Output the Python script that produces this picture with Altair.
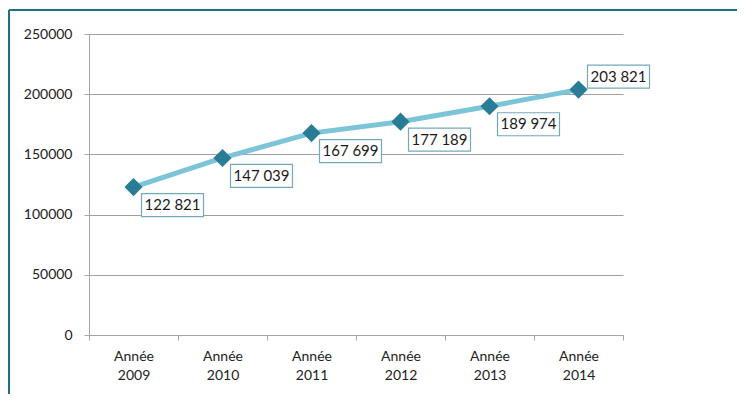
import altair as alt
import pandas as pd

years = ["Année 2009", "Année 2010", "Année 2011", "Année 2012", "Année 2013", "Année 2014"]
values = [122821, 147039, 167699, 177189, 189974, 203821]
labels = ["122 821", "147 039", "167 699", "177 189", "189 974", "203 821"]
y_ticks = [0, 50000, 100000, 150000, 200000, 250000]

df = pd.DataFrame({"year": years, "value": values, "label": labels})
df["above"] = [i == len(years) - 1 for i in range(len(years))]

FONT = "Lato"
BOX = "M-1,-0.371L1,-0.371L1,0.371L-1,0.371Z"

x_enc = alt.X("year:N", sort=years, bandPosition=0.5,
              scale=alt.Scale(type="band", paddingInner=0, paddingOuter=0),
              axis=alt.Axis(title=None, labelAngle=0, tickBand="extent",
                            labelExpr="split(datum.label, ' ')",
                            labelLineHeight=19, labelPadding=9, tickSize=5,
                            domainColor="#a6a6a6", tickColor="#a6a6a6",
                            labelFontSize=14, labelColor="#222222", labelFont=FONT,
                            grid=False))
y_enc = alt.Y("value:Q", scale=alt.Scale(domain=[0, 250000], nice=False),
              axis=alt.Axis(title=None, values=y_ticks, format="d", tickSize=5,
                            labelPadding=12, domainColor="#a6a6a6", tickColor="#a6a6a6",
                            gridColor="#a0a0a0", labelFontSize=14, labelColor="#222222",
                            labelFont=FONT))

base = alt.Chart(df)

line = base.mark_line(color="#7cc4d8", strokeWidth=5).encode(x=x_enc, y=y_enc)
pts = base.mark_point(shape="diamond", filled=True, size=330, color="#2a7b95",
                      opacity=1).encode(x=x_enc, y=y_enc)

below = base.transform_filter("!datum.above")
above = base.transform_filter("datum.above")

box_style = dict(shape=BOX, size=3844, filled=True, fill="white", stroke="#74a9bb",
                 strokeWidth=1.2, opacity=1)
txt_style = dict(font=FONT, fontSize=15, color="#1a1a1a", align="center", baseline="middle")

box_b = below.mark_point(xOffset=39, yOffset=18, **box_style).encode(x=x_enc, y=y_enc)
txt_b = below.mark_text(dx=39, dy=18, **txt_style).encode(x=x_enc, y=y_enc, text="label:N")
box_a = above.mark_point(xOffset=40, yOffset=-13, **box_style).encode(x=x_enc, y=y_enc)
txt_a = above.mark_text(dx=40, dy=-13, **txt_style).encode(x=x_enc, y=y_enc, text="label:N")

frame_top = alt.Chart(pd.DataFrame({"a": [0]})).mark_rule(color="#1f6f85", strokeWidth=2).encode(
    x=alt.value(-80), x2=alt.value(660), y=alt.value(-24))
frame_left = alt.Chart(pd.DataFrame({"a": [0]})).mark_rule(color="#1f6f85", strokeWidth=2).encode(
    x=alt.value(-80), y=alt.value(-24), y2=alt.value(360))

chart = alt.layer(frame_top, frame_left, line, pts, box_b, txt_b, box_a, txt_a).properties(
    width=534, height=301,
    autosize=alt.AutoSizeParams(type="none"),
    padding={"left": 81, "top": 26, "right": 114, "bottom": 59},
    background="white",
).configure_view(stroke=None)

chart.save("out.html", embed_options={"renderer": "svg", "actions": False})
